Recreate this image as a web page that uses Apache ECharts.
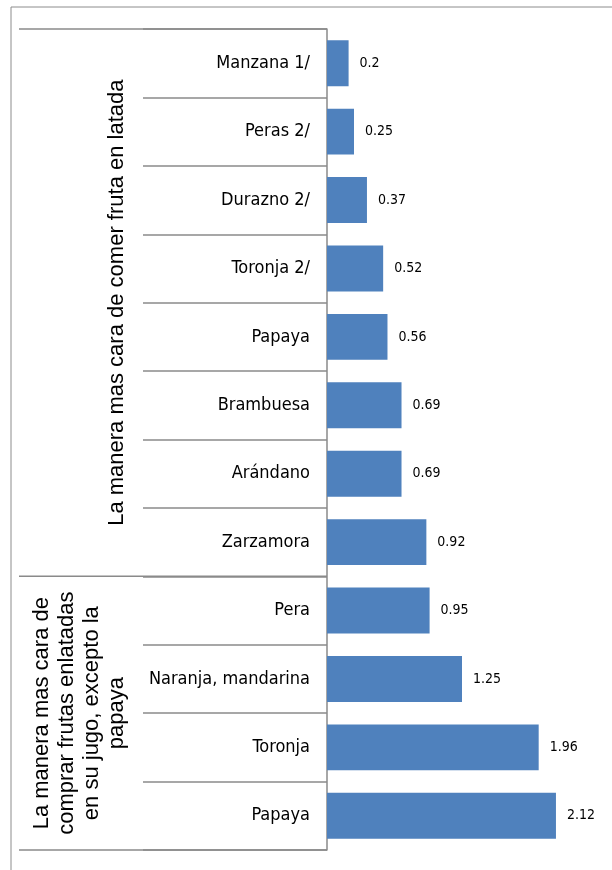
<!DOCTYPE html>
<html>
<head>
<meta charset="utf-8">
<script src="https://cdn.jsdelivr.net/npm/echarts@6/dist/echarts.min.js"></script>
<style>
html,body{margin:0;padding:0;background:#fff;}
#c{width:612px;height:870px;}
</style>
</head>
<body>
<div id="c"></div>
<script>
const categories = ['Manzana 1/','Peras 2/','Durazno 2/','Toronja 2/','Papaya','Brambuesa','Arándano','Zarzamora','Pera','Naranja, mandarina','Toronja','Papaya'];
const values = [0.2,0.25,0.37,0.52,0.56,0.69,0.69,0.92,0.95,1.25,1.96,2.12];
const groupNames = ['La manera mas cara de comer fruta en latada','La manera mas cara de\ncomprar frutas enlatadas\nen su jugo, excepto la\npapaya'];
const groupStart = [0, 8];
const groupEnd = [7, 11];

const narrow = "'DejaVu Sans Condensed', 'Liberation Sans Narrow', 'Roboto Condensed', 'Liberation Sans', sans-serif";
const lineColor = '#8a8a8a';
const chart = echarts.init(document.getElementById('c'), null, {renderer:'canvas'});
chart.setOption({
  animation:false,
  backgroundColor:'#fff',
  grid:{left:327, top:29, height:821, width:270, containLabel:false},
  xAxis:{type:'value', min:0, max:2.5, show:false},
  yAxis:{
    type:'category', inverse:true, data:categories,
    axisLine:{show:true, lineStyle:{color:lineColor, width:1.5}},
    axisTick:{show:true, interval:0, length:184, alignWithLabel:false, lineStyle:{color:lineColor, width:1.5}},
    axisLabel:{interval:0, margin:17, fontFamily:narrow, fontSize:18, color:'#000'},
    splitLine:{show:false}
  },
  series:[{
    type:'bar', data:values, barCategoryGap:'33%',
    itemStyle:{color:'#4F81BD'},
    label:{show:true, position:'right', distance:11, fontFamily:narrow, fontSize:14, color:'#000'}
  }]
});

const c0 = chart.convertToPixel({yAxisIndex:0}, 0);
const c1 = chart.convertToPixel({yAxisIndex:0}, 1);
const band = c1 - c0;
const axisX = chart.convertToPixel({xAxisIndex:0}, 0);
function boundaryTop(i){ return chart.convertToPixel({yAxisIndex:0}, i) - band/2; }
function boundaryBottom(i){ return chart.convertToPixel({yAxisIndex:0}, i) + band/2; }

const graphics = [{
  type:'rect', shape:{x:11, y:7, width:700, height:900},
  style:{fill:null, stroke:'#8c8c8c', lineWidth:1}, silent:true
}];
const ys = [boundaryTop(groupStart[0]), boundaryTop(groupStart[1]), boundaryBottom(groupEnd[1])];
ys.forEach(y => graphics.push({
  type:'line', shape:{x1:19, y1:y, x2:axisX, y2:y},
  style:{stroke:lineColor, lineWidth:1.5}, silent:true
}));
const labelX = [117, 79];
groupNames.forEach((name, g) => {
  const yc = (boundaryTop(groupStart[g]) + boundaryBottom(groupEnd[g])) / 2;
  graphics.push({
    type:'text', x:labelX[g], y:yc, rotation:Math.PI/2,
    style:{text:name, fontFamily:'Liberation Sans', fontSize:22, lineHeight:25, fill:'#000', align:'center', verticalAlign:'middle'},
    silent:true
  });
});
chart.setOption({graphic:graphics});
</script>
</body>
</html>
